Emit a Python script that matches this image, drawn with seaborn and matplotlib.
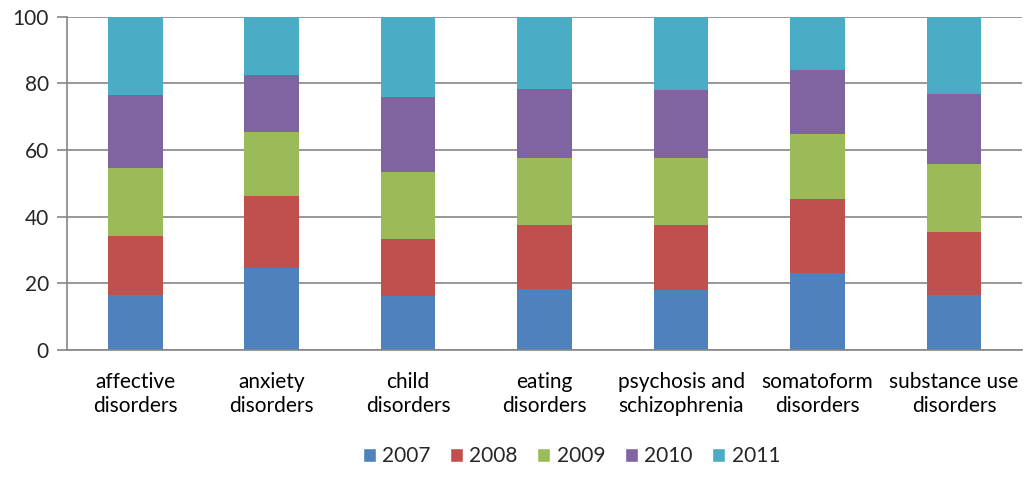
import pandas as pd
import numpy as np
import seaborn as sns
import matplotlib.pyplot as plt
from matplotlib.patches import Patch

# categories and yearly shares (percent)
categories = ["affective\ndisorders", "anxiety\ndisorders", "child\ndisorders",
              "eating\ndisorders", "psychosis and\nschizophrenia",
              "somatoform\ndisorders", "substance use\ndisorders"]
years = ["2007", "2008", "2009", "2010", "2011"]
v2007 = [16.5, 24.7, 16.3, 18.3, 18.1, 23.1, 16.5]
v2008 = [17.7, 21.5, 17.0, 19.2, 19.4, 22.2, 18.9]
v2009 = [20.5, 19.3, 20.2, 20.2, 20.2, 19.6, 20.5]
v2010 = [21.9, 17.1, 22.5, 20.7, 20.4, 19.2, 21.0]
v2011 = [23.4, 17.4, 24.0, 21.6, 21.9, 15.9, 23.1]
colors = ["#4F81BD", "#C0504D", "#9BBB59", "#8064A2", "#4BACC6"]

df = pd.DataFrame({"category": categories, "2007": v2007, "2008": v2008,
                   "2009": v2009, "2010": v2010, "2011": v2011})
cum = df[years].cumsum(axis=1)
cum["category"] = df["category"]

sns.set_style("white")
plt.rcParams["font.family"] = ["Lato", "DejaVu Sans"]

fig = plt.figure(figsize=(10.24, 4.95), dpi=100)
ax = fig.add_axes([0.0654, 0.293, 0.933, 0.673])

# stacked bars: draw cumulative totals from top to bottom
for yr, col in reversed(list(zip(years, colors))):
    sns.barplot(data=cum, x="category", y=yr, color=col, width=0.4,
                saturation=1, linewidth=0, edgecolor="none", ax=ax, zorder=2)

ax.set_ylim(0, 100)
ax.set_xlim(-0.5, len(categories) - 0.5)
ax.set_yticks(range(0, 101, 20))
ax.yaxis.grid(True, color="#868686", lw=1.2, zorder=0)
ax.set_axisbelow(True)
ax.set_xlabel("")
ax.set_ylabel("")

for s in ["top", "right"]:
    ax.spines[s].set_visible(False)
for s in ["left", "bottom"]:
    ax.spines[s].set_color("#868686")
    ax.spines[s].set_linewidth(1.2)

fs = 15
ax.tick_params(axis="x", which="major", length=0, labelsize=fs, pad=16,
               labelcolor="black")
ax.set_xticks(np.arange(-0.5, len(categories), 1), minor=True)
ax.tick_params(axis="x", which="minor", length=8, color="#868686", width=1.2)
ax.tick_params(axis="y", length=7, color="#868686", width=1.2, labelsize=fs,
               left=True, pad=6)
for lab in ax.get_xticklabels():
    lab.set_linespacing(1.25)

handles = [Patch(facecolor=c, label=y) for y, c in zip(years, colors)]
fig.legend(handles=handles, loc="center", bbox_to_anchor=(0.558, 0.078),
           ncol=5, frameon=False, fontsize=fs, handlelength=0.62,
           handleheight=0.62, columnspacing=0.95, handletextpad=0.3)

fig.savefig("out.png", dpi=100)
